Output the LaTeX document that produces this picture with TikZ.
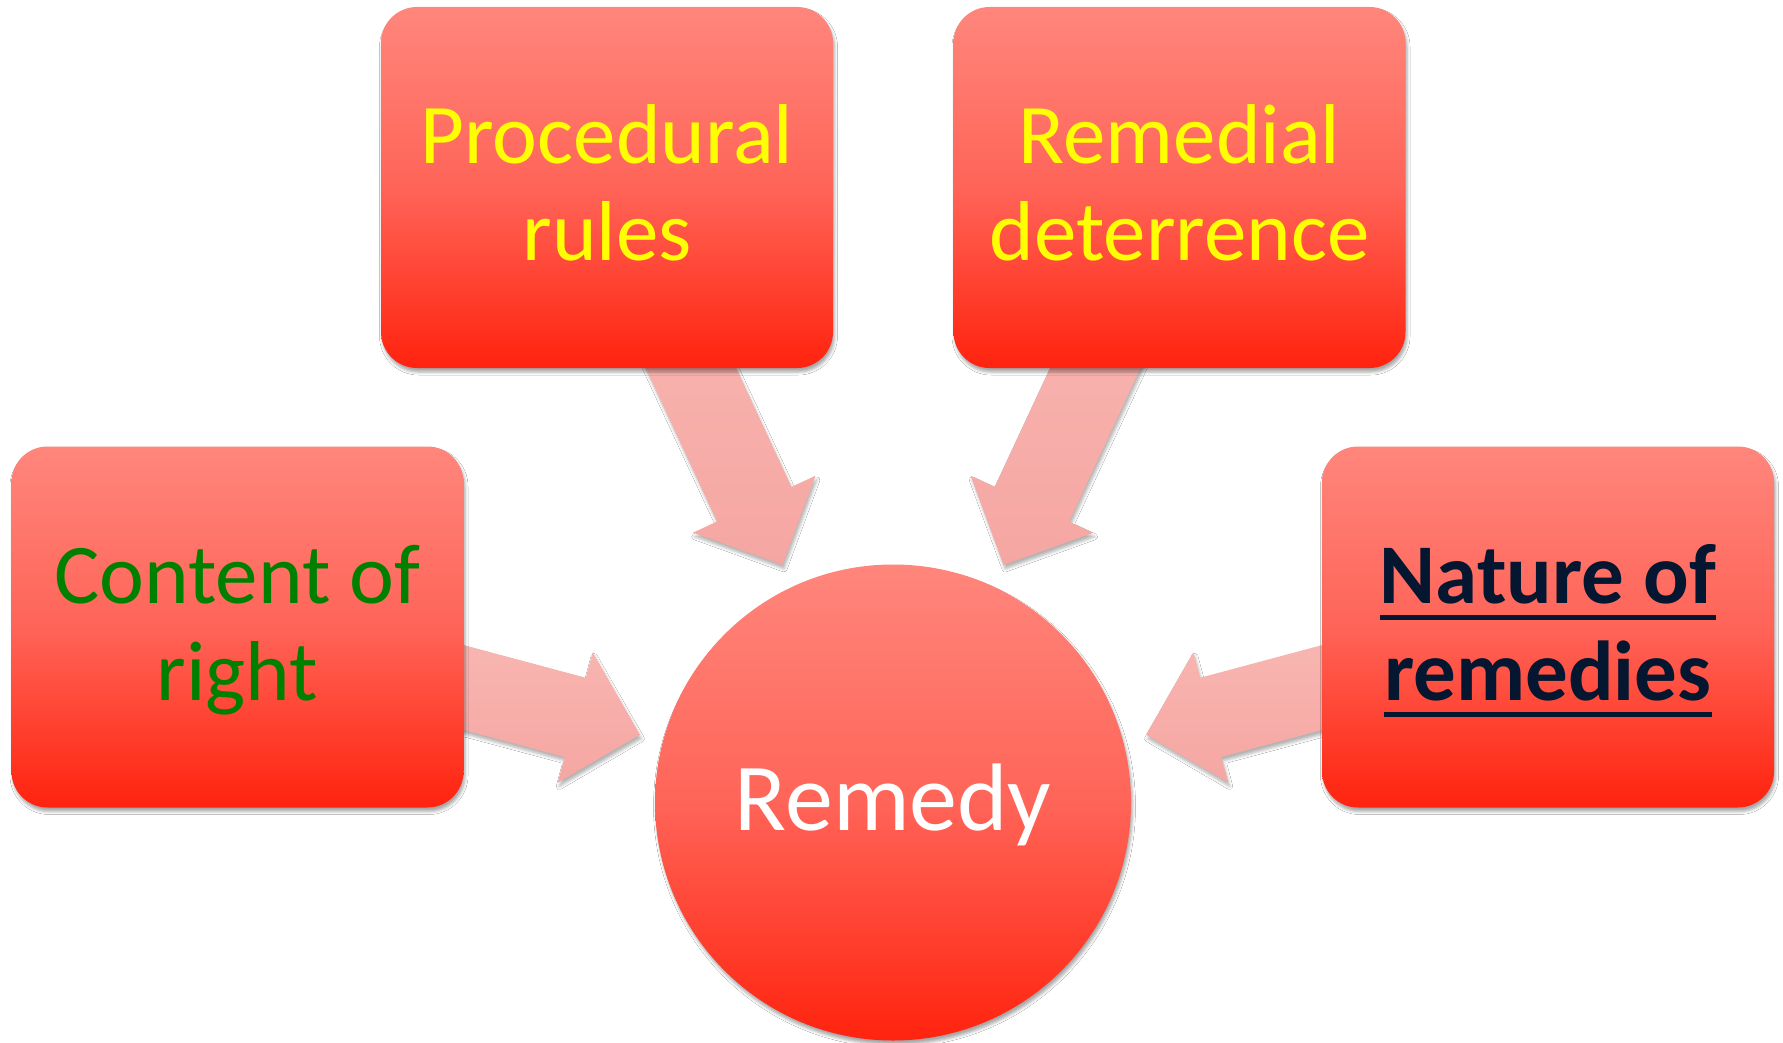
\documentclass[tikz,border=0pt]{standalone}
\usepackage{fontspec}
\setmainfont{Carlito}
\usetikzlibrary{calc,shadows.blur}
\pgfdeclarelayer{bg}
\pgfsetlayers{bg,main}
\definecolor{boxtop}{RGB}{255,134,124}
\definecolor{boxmid}{RGB}{255,100,88}
\definecolor{boxbot}{RGB}{255,35,14}
\definecolor{arrtop}{RGB}{250,188,183}
\definecolor{arrbot}{RGB}{245,166,162}
\definecolor{txtyellow}{RGB}{255,255,0}
\definecolor{txtgreen}{RGB}{0,128,0}
\definecolor{txtnavy}{RGB}{4,22,48}
\newcommand\lnstrut{\rule[-17pt]{0pt}{84pt}}
\newcommand\ulword[1]{\setbox0\hbox{#1}\rlap{\rule[-16.5pt]{\wd0}{5pt}}\box0}
\newcommand\blockarrow[2]{%
  \coordinate (#1-tip) at ($(#2.center)!262pt!(#1.center)$);
  \coordinate (#1-base) at ($(#2.center)!329pt!(#1.center)$);
  \path[blockarr] ($(#1.center)!41pt!90:(#2.center)$)
    -- ($(#1-base)!41pt!90:(#2.center)$)
    -- ($(#1-base)!67.5pt!90:(#2.center)$)
    -- (#1-tip)
    -- ($(#1-base)!67.5pt!-90:(#2.center)$)
    -- ($(#1-base)!41pt!-90:(#2.center)$)
    -- ($(#1.center)!41pt!-90:(#2.center)$) -- cycle;}
\tikzset{
  softshadow/.style={blur shadow={shadow xshift=1.5pt, shadow yshift=-4pt, shadow blur radius=3pt, shadow opacity=35}},
  boxnode/.style={rectangle, rounded corners=36pt, minimum width=452pt, minimum height=361pt,
    inner sep=0pt, align=center, top color=boxtop, bottom color=boxbot, middle color=boxmid,
    font=\fontsize{85}{97}\selectfont, softshadow},
  circnode/.style={circle, minimum size=476pt, inner sep=0pt, top color=boxtop, bottom color=boxbot,
    middle color=boxmid, text=white, font=\fontsize{96}{110}\selectfont, softshadow},
  blockarr/.style={top color=arrtop, bottom color=arrbot, blur shadow={shadow xshift=1.5pt, shadow yshift=-4pt, shadow blur radius=3pt, shadow opacity=30}}
}
\begin{document}
\begin{tikzpicture}[x=1pt,y=-1pt]
\useasboundingbox (0,0) rectangle (1783,1043);
\node[boxnode, text=txtyellow] (pr) at (607,187.5) {\lnstrut Procedural\\\lnstrut rules};
\node[boxnode, text=txtyellow] (rd) at (1179.5,187.5) {\lnstrut Remedial\\\lnstrut deterrence};
\node[boxnode, text=txtgreen] (cr) at (237.5,627) {\lnstrut Content of\\\lnstrut right};
\node[boxnode, text=txtnavy, font=\fontsize{85}{97}\selectfont\bfseries] (nr) at (1548,627)
  {\lnstrut\ulword{Nature of}\\\lnstrut\ulword{remedies}};
\node[circnode] (rm) at (893,802.5) {\rule[-20pt]{0pt}{95pt}Remedy};
\begin{pgfonlayer}{bg}
\fill[white] (0,0) rectangle (1783,1043);
\blockarrow{pr}{rm}
\blockarrow{rd}{rm}
\blockarrow{cr}{rm}
\blockarrow{nr}{rm}
\end{pgfonlayer}
\end{tikzpicture}
\end{document}
